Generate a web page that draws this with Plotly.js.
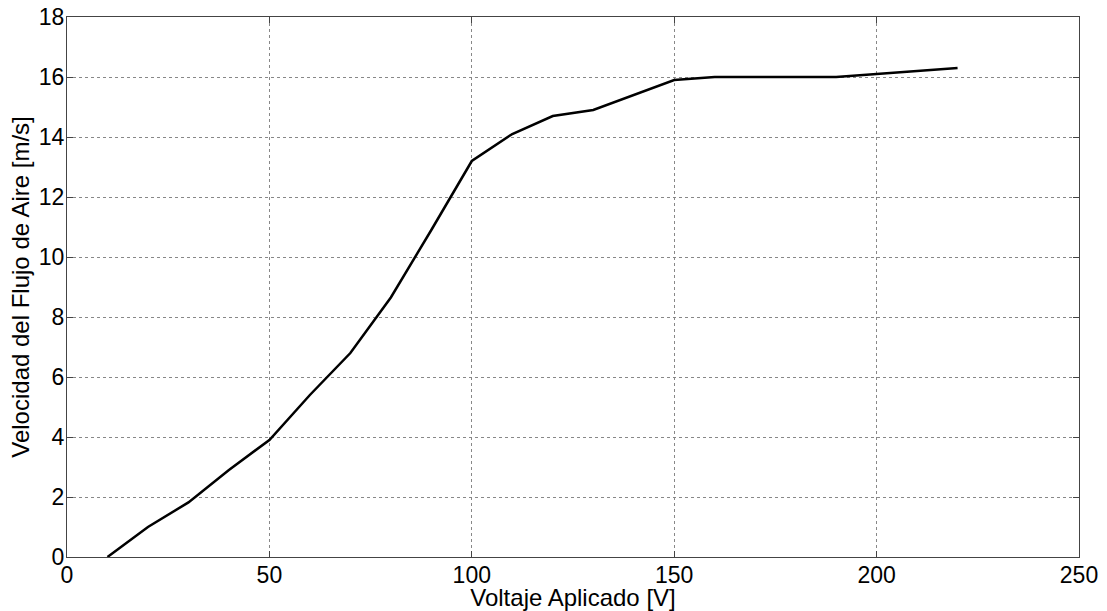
<!DOCTYPE html>
<html><head><meta charset="utf-8">
<script src="https://cdn.plot.ly/plotly-3.0.1.min.js"></script>
<style>html,body{margin:0;padding:0;background:#fff}#chart{width:1107px;height:611px}</style>
</head><body><div id="chart"></div>
<script>
const voltage = [10,20,30,40,50,60,70,80,90,100,110,120,130,140,150,160,170,180,190,200,210,220];
const velocity = [0,1.0,1.82,2.9,3.9,5.4,6.8,8.65,10.9,13.2,14.1,14.7,14.9,15.4,15.9,16.0,16.0,16.0,16.0,16.1,16.2,16.3];
const xTicks = [0,50,100,150,200,250];
const yTicks = [0,2,4,6,8,10,12,14,16,18];

const fontFam = '"Liberation Sans", Arial, sans-serif';
Plotly.newPlot('chart', [{
  x: voltage, y: velocity, type: 'scatter', mode: 'lines',
  line: {color: '#000', width: 2.5}, hoverinfo: 'skip'
}], {
  width: 1107, height: 611,
  margin: {l: 67, r: 28, t: 17, b: 54},
  paper_bgcolor: '#fff', plot_bgcolor: '#fff',
  showlegend: false,
  font: {family: fontFam, color: '#000'},
  xaxis: {
    range: [0, 250], tickvals: xTicks, ticktext: xTicks.map(String),
    showgrid: true, gridcolor: '#888', griddash: 'dot', gridwidth: 1,
    zeroline: false, showline: true, linecolor: '#444', linewidth: 1, mirror: 'ticks',
    ticks: 'inside', ticklen: 6, tickcolor: '#444',
    tickfont: {size: 23, family: fontFam}, ticklabelstandoff: -3,
    title: {text: 'Voltaje Aplicado [V]', font: {size: 24, family: fontFam}, standoff: 0}
  },
  yaxis: {
    range: [0, 18], tickvals: yTicks, ticktext: yTicks.map(String),
    showgrid: true, gridcolor: '#888', griddash: 'dot', gridwidth: 1,
    zeroline: false, showline: true, linecolor: '#444', linewidth: 1, mirror: 'ticks',
    ticks: 'inside', ticklen: 6, tickcolor: '#444',
    tickfont: {size: 23, family: fontFam}, ticklabelstandoff: -3,
    title: {text: 'Velocidad del Flujo de Aire [m/s]', font: {size: 24, family: fontFam}, standoff: 2}
  }
}, {displayModeBar: false, staticPlot: true});
</script></body></html>
